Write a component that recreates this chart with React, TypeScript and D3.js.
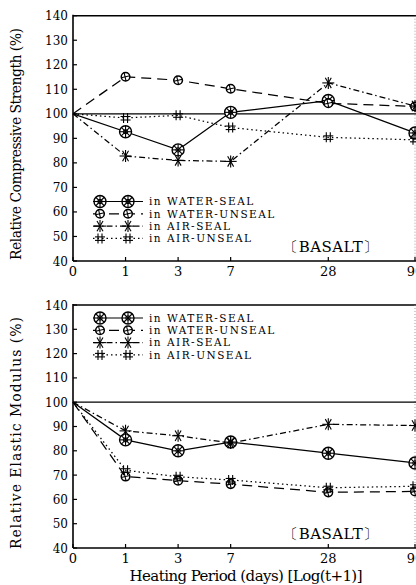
import * as d3 from 'd3';
import React from 'react';

// heating period in days, plotted as log(t+1)
const days = [0, 1, 3, 7, 28, 90];
const dayLabels = ['0', '1', '3', '7', '28', '90'];
const yTicks = [40, 50, 60, 70, 80, 90, 100, 110, 120, 130, 140];

const seriesNames = ['WATER-SEAL', 'WATER-UNSEAL', 'AIR-SEAL', 'AIR-UNSEAL'];

// relative compressive strength (%)
const strengthWaterSeal = [100, 92.7, 85.3, 100.6, 105.4, 92.2];
const strengthWaterUnseal = [100, 115.1, 113.7, 110.2, 104.3, 103];
const strengthAirSeal = [100, 82.8, 81.0, 80.6, 112.6, 103.2];
const strengthAirUnseal = [100, 98.3, 99.4, 94.4, 90.4, 89.4];

// relative elastic modulus (%)
const modulusWaterSeal = [100, 84.5, 80, 83.6, 79, 75];
const modulusWaterUnseal = [100, 69.4, 67.7, 66.3, 62.9, 63.3];
const modulusAirSeal = [100, 88.2, 86.2, 83.2, 90.9, 90.4];
const modulusAirUnseal = [100, 72, 69.3, 68, 64.8, 65.4];

const FONT = '"DejaVu Serif", "Liberation Serif", serif';
const dashes = ['none', '10,6', '6,3,1.5,3', '1.5,3'];

const x = d3
  .scaleLinear()
  .domain([0, Math.log10(91)])
  .range([73, 415]);
const xd = (d: number) => x(Math.log10(d + 1));

function Marker({ kind, cx, cy }: { kind: number; cx: number; cy: number }) {
  const s = { stroke: '#000', strokeWidth: 1.1, fill: 'none' };
  if (kind === 0) {
    const r = 6;
    const spokes = [0, 45, 90, 135].map((a) => {
      const t = (a * Math.PI) / 180;
      return (
        <line key={a} x1={cx - r * Math.cos(t)} y1={cy - r * Math.sin(t)}
          x2={cx + r * Math.cos(t)} y2={cy + r * Math.sin(t)} {...s} />
      );
    });
    return (
      <g>
        <circle cx={cx} cy={cy} r={r} fill="#fff" stroke="#000" strokeWidth={1.4} />
        <circle cx={cx} cy={cy} r={2.2} fill="none" stroke="#000" strokeWidth={1} />
        {spokes}
      </g>
    );
  }
  if (kind === 1) {
    const r = 4.3;
    return (
      <g>
        <circle cx={cx} cy={cy} r={r} fill="#fff" stroke="#000" strokeWidth={1.5} />
        <line x1={cx - r} y1={cy + 1} x2={cx + r} y2={cy - 1} {...s} />
        <line x1={cx - 1.5} y1={cy - r} x2={cx + 0.5} y2={cy + r} {...s} />
      </g>
    );
  }
  if (kind === 2) {
    const r = 6;
    return (
      <g>
        {[0, 60, 120, 90].map((a) => {
          const t = (a * Math.PI) / 180;
          return (
            <line key={a} x1={cx - r * Math.cos(t)} y1={cy - r * Math.sin(t)}
              x2={cx + r * Math.cos(t)} y2={cy + r * Math.sin(t)} {...s} />
          );
        })}
      </g>
    );
  }
  const r = 5;
  return (
    <g>
      <line x1={cx - 2} y1={cy - r} x2={cx - 2} y2={cy + r} {...s} />
      <line x1={cx + 2} y1={cy - r} x2={cx + 2} y2={cy + r} {...s} />
      <line x1={cx - r} y1={cy - 1.5} x2={cx + r} y2={cy - 1.5} {...s} />
      <line x1={cx - r} y1={cy + 2} x2={cx + r} y2={cy + 2} {...s} />
    </g>
  );
}

function Panel({
  top, bottom, title, titleY, series, legendY, showXTitle,
}: {
  top: number; bottom: number; title: string; titleY: number;
  series: number[][]; legendY: number; showXTitle: boolean;
}) {
  const y = d3.scaleLinear().domain([40, 140]).range([bottom, top]);
  const line = d3
    .line<number>()
    .x((_, i) => xd(days[i]))
    .y((v) => y(v));
  const [x0, x1] = x.range();

  return (
    <g>
      {/* frame */}
      <line x1={x0} y1={y(140)} x2={x1 + 1} y2={y(140)} stroke="#000" strokeWidth={1.5} />
      <line x1={x1} y1={y(140)} x2={x1} y2={y(40)} stroke="#888" strokeWidth={0.8} strokeDasharray="1,2" />
      <line x1={x0} y1={y(140) - 1} x2={x0} y2={y(40)} stroke="#000" strokeWidth={1.6} />
      <line x1={x0} y1={y(40)} x2={x1 + 1} y2={y(40)} stroke="#000" strokeWidth={1.6} />
      <line x1={x0} y1={y(100)} x2={x1 + 1} y2={y(100)} stroke="#000" strokeWidth={1.2} />

      {yTicks.map((t) => (
        <g key={t}>
          <line x1={x0} x2={x0 + 4} y1={y(t)} y2={y(t)} stroke="#000" strokeWidth={1.2} />
          <text x={x0 - 5} y={y(t) + 4.5} textAnchor="end" fontSize={12} fontFamily={FONT}>{t}</text>
        </g>
      ))}
      {days.map((d, i) => (
        <g key={d}>
          <line x1={xd(d)} x2={xd(d)} y1={y(40)} y2={y(40) - 4} stroke="#000" strokeWidth={1.2} />
          <text x={xd(d)} y={y(40) + 14.5} textAnchor="middle" fontSize={13} fontFamily={FONT}>{dayLabels[i]}</text>
        </g>
      ))}

      <text transform={`translate(21,${titleY}) rotate(-90)`} textAnchor="middle" fontSize={14}
        fontFamily={FONT} textLength={232} lengthAdjust="spacing">{title}</text>

      {series.map((vals, k) => (
        <g key={k}>
          <path d={line(vals) || ''} fill="none" stroke="#000" strokeWidth={1.25} strokeDasharray={dashes[k]} />
          {vals.slice(1).map((v, i) => (
            <Marker key={i} kind={k} cx={xd(days[i + 1])} cy={y(v)} />
          ))}
        </g>
      ))}

      {/* legend */}
      {seriesNames.map((n, k) => {
        const ly = legendY + k * 12.3;
        return (
          <g key={n}>
            <line x1={93} x2={143} y1={ly} y2={ly} stroke="#000" strokeWidth={1.2} strokeDasharray={dashes[k]} />
            <Marker kind={k} cx={100} cy={ly} />
            <Marker kind={k} cx={128} cy={ly} />
            <text x={149} y={ly + 3.8} fontSize={10.5} fontFamily={FONT} letterSpacing={1.5}>{'in ' + n}</text>
          </g>
        );
      })}

      <text x={331} y={y(40) - 9} textAnchor="middle" fontSize={15} fontFamily={FONT} letterSpacing={0.5}>〔BASALT〕</text>

      {showXTitle && (
        <text x={246} y={581} textAnchor="middle" fontSize={15} fontFamily={FONT}
          textLength={233} lengthAdjust="spacing">Heating Period (days) [Log(t+1)]</text>
      )}
    </g>
  );
}

export default function App() {
  return (
    <div style={{ position: 'absolute', left: 0, top: 0 }}>
      <svg width={416} height={585} style={{ display: 'block', background: '#fff' }}>
        <Panel top={15.7} bottom={261} title="Relative Compressive Strength (%)" titleY={144}
          series={[strengthWaterSeal, strengthWaterUnseal, strengthAirSeal, strengthAirUnseal]}
          legendY={201.5} showXTitle={false} />
        <Panel top={305} bottom={548} title="Relative Elastic Modulus (%)" titleY={433}
          series={[modulusWaterSeal, modulusWaterUnseal, modulusAirSeal, modulusAirUnseal]}
          legendY={318} showXTitle={true} />
      </svg>
    </div>
  );
}
